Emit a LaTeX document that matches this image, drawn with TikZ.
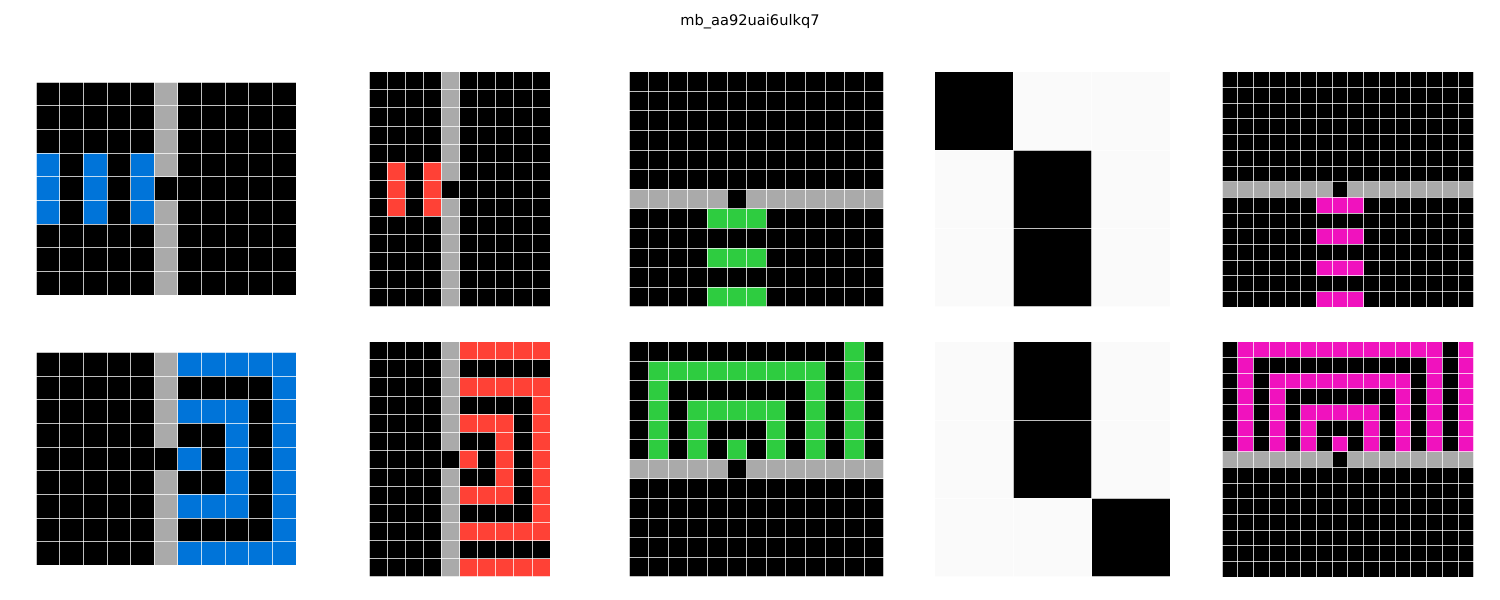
\documentclass[tikz,border=0pt]{standalone}
\usepackage{fontspec}
\setmainfont{DejaVu Sans}
\definecolor{arcblue}{HTML}{0074D9}
\definecolor{arcred}{HTML}{FF4136}
\definecolor{arcgreen}{HTML}{2ECC40}
\definecolor{arcgray}{HTML}{AAAAAA}
\definecolor{arcmag}{HTML}{F012BE}
\definecolor{arcwhite}{HTML}{FAFAFA}
\tikzset{gl/.style={white,opacity=0.75,line width=0.8pt}}
\newcommand\arcrect[5]{\fill[#5] (#1,#2) rectangle (#3+1,#4+1);}
\newcommand\arcgl[2]{%
  \foreach \i in {0,...,#1} \draw[gl] (\i,0) -- (\i,#2);
  \foreach \j in {0,...,#2} \draw[gl] (0,\j) -- (#1,\j);}
\begin{document}
\begin{tikzpicture}[x=1pt,y=-1pt]
\useasboundingbox (0,0) rectangle (1500,600);
\fill[white] (0,0) rectangle (1500,600);
\node[font=\fontsize{14.6}{17}\selectfont, anchor=base] (title) at (750,25) {mb\_aa92uai6ulkq7};

% ---------- Grid 1 input (11x9)
\begin{scope}[shift={(36,82)},x=23.636pt,y=-23.667pt]
\fill[black] (0,0) rectangle (11,9);
\arcrect{5}{0}{5}{8}{arcgray}
\arcrect{5}{4}{5}{4}{black}
\arcrect{0}{3}{0}{5}{arcblue}
\arcrect{2}{3}{2}{5}{arcblue}
\arcrect{4}{3}{4}{5}{arcblue}
\arcgl{11}{9}
\end{scope}

% ---------- Grid 1 output
\begin{scope}[shift={(36,352.3)},x=23.636pt,y=-23.667pt]
\fill[black] (0,0) rectangle (11,9);
\arcrect{5}{0}{5}{8}{arcgray}
\arcrect{5}{4}{5}{4}{black}
\arcrect{6}{0}{10}{0}{arcblue}
\arcrect{6}{8}{10}{8}{arcblue}
\arcrect{10}{0}{10}{8}{arcblue}
\arcrect{6}{2}{8}{2}{arcblue}
\arcrect{6}{6}{8}{6}{arcblue}
\arcrect{8}{2}{8}{6}{arcblue}
\arcrect{6}{4}{6}{4}{arcblue}
\arcgl{11}{9}
\end{scope}

% ---------- Grid 2 input (10x13)
\begin{scope}[shift={(369,71.7)},x=18.1pt,y=-18.08pt]
\fill[black] (0,0) rectangle (10,13);
\arcrect{4}{0}{4}{12}{arcgray}
\arcrect{4}{6}{4}{6}{black}
\arcrect{1}{5}{1}{7}{arcred}
\arcrect{3}{5}{3}{7}{arcred}
\arcgl{10}{13}
\end{scope}

% ---------- Grid 2 output
\begin{scope}[shift={(369,341.7)},x=18.1pt,y=-18.08pt]
\fill[black] (0,0) rectangle (10,13);
\arcrect{4}{0}{4}{12}{arcgray}
\arcrect{4}{6}{4}{6}{black}
\arcrect{5}{0}{9}{0}{arcred}
\arcrect{5}{2}{9}{2}{arcred}
\arcrect{5}{10}{9}{10}{arcred}
\arcrect{5}{12}{9}{12}{arcred}
\arcrect{9}{2}{9}{10}{arcred}
\arcrect{5}{4}{7}{4}{arcred}
\arcrect{5}{8}{7}{8}{arcred}
\arcrect{7}{4}{7}{8}{arcred}
\arcrect{5}{6}{5}{6}{arcred}
\arcgl{10}{13}
\end{scope}

% ---------- Grid 3 input (13x12)
\begin{scope}[shift={(629,71.7)},x=19.6pt,y=-19.58pt]
\fill[black] (0,0) rectangle (13,12);
\arcrect{0}{6}{12}{6}{arcgray}
\arcrect{5}{6}{5}{6}{black}
\arcrect{4}{7}{6}{7}{arcgreen}
\arcrect{4}{9}{6}{9}{arcgreen}
\arcrect{4}{11}{6}{11}{arcgreen}
\arcgl{13}{12}
\end{scope}

% ---------- Grid 3 output
\begin{scope}[shift={(629,341.7)},x=19.6pt,y=-19.58pt]
\fill[black] (0,0) rectangle (13,12);
\arcrect{0}{6}{12}{6}{arcgray}
\arcrect{5}{6}{5}{6}{black}
\arcrect{11}{0}{11}{5}{arcgreen}
\arcrect{1}{1}{9}{1}{arcgreen}
\arcrect{1}{1}{1}{5}{arcgreen}
\arcrect{9}{1}{9}{5}{arcgreen}
\arcrect{3}{3}{7}{3}{arcgreen}
\arcrect{3}{3}{3}{5}{arcgreen}
\arcrect{7}{3}{7}{5}{arcgreen}
\arcrect{5}{5}{5}{5}{arcgreen}
\arcgl{13}{12}
\end{scope}

% ---------- Grid 4 input (3x3)
\begin{scope}[shift={(934.7,71.7)},x=78.43pt,y=-78.33pt]
\fill[arcwhite] (0,0) rectangle (3,3);
\arcrect{0}{0}{0}{0}{black}
\arcrect{1}{1}{1}{2}{black}
\arcgl{3}{3}
\end{scope}

% ---------- Grid 4 output
\begin{scope}[shift={(934.7,341.7)},x=78.43pt,y=-78.33pt]
\fill[arcwhite] (0,0) rectangle (3,3);
\arcrect{1}{0}{1}{1}{black}
\arcrect{2}{2}{2}{2}{black}
\arcgl{3}{3}
\end{scope}

% ---------- Grid 5 input (16x15)
\begin{scope}[shift={(1222,71.7)},x=15.73pt,y=-15.7pt]
\fill[black] (0,0) rectangle (16,15);
\arcrect{0}{7}{15}{7}{arcgray}
\arcrect{7}{7}{7}{7}{black}
\arcrect{6}{8}{8}{8}{arcmag}
\arcrect{6}{10}{8}{10}{arcmag}
\arcrect{6}{12}{8}{12}{arcmag}
\arcrect{6}{14}{8}{14}{arcmag}
\arcgl{16}{15}
\end{scope}

% ---------- Grid 5 output
\begin{scope}[shift={(1222,341.7)},x=15.73pt,y=-15.7pt]
\fill[black] (0,0) rectangle (16,15);
\arcrect{0}{7}{15}{7}{arcgray}
\arcrect{7}{7}{7}{7}{black}
\arcrect{1}{0}{13}{0}{arcmag}
\arcrect{15}{0}{15}{6}{arcmag}
\arcrect{1}{0}{1}{6}{arcmag}
\arcrect{13}{0}{13}{6}{arcmag}
\arcrect{3}{2}{11}{2}{arcmag}
\arcrect{3}{2}{3}{6}{arcmag}
\arcrect{11}{2}{11}{6}{arcmag}
\arcrect{5}{4}{9}{4}{arcmag}
\arcrect{5}{4}{5}{6}{arcmag}
\arcrect{9}{4}{9}{6}{arcmag}
\arcrect{7}{6}{7}{6}{arcmag}
\arcgl{16}{15}
\end{scope}
\end{tikzpicture}
\end{document}
